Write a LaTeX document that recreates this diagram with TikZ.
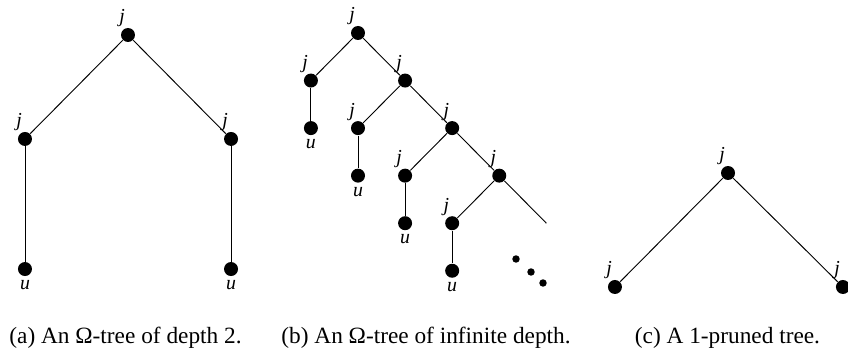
\documentclass[tikz,border=0pt]{standalone}
\usepackage{fontspec}
\setmainfont{Liberation Serif}
\usetikzlibrary{positioning}
\tikzset{
  vertex/.style={circle,fill=black,inner sep=0pt,minimum size=6pt},
  smalldot/.style={circle,fill=black,inner sep=0pt,minimum size=3.2pt},
  lbl/.style={font=\fontsize{8.5}{10}\selectfont,inner sep=0.6pt},
  jvertex/.style={vertex,label={[lbl,label distance=-0.6pt]102:\textit{j}}},
  uvertex/.style={vertex,label={[lbl,label distance=1pt]below:\textit{u}}},
  treeedge/.style={draw=black,line width=0.4pt},
  caption/.style={font=\fontsize{10}{12}\selectfont,anchor=base}
}
\begin{document}
\begin{tikzpicture}[x=0.429pt,y=-0.429pt,on grid]
\useasboundingbox (0,0) rectangle (848,356);
% (a) depth 2
\node[jvertex] (a0) at (128,35) {};
\node[jvertex, below left=44.6pt and 44.2pt of a0] (a1) {};
\node[jvertex, below right=44.6pt and 44.2pt of a0] (a2) {};
\node[uvertex, below=55.8pt of a1] (a3) {};
\node[uvertex, below=55.8pt of a2] (a4) {};
\draw[treeedge] (a0) -- (a1);
\draw[treeedge] (a0) -- (a2);
\draw[treeedge] (a1) -- (a3);
\draw[treeedge] (a2) -- (a4);
% (b) infinite depth
\node[jvertex] (b0) at (358,33) {};
\node[jvertex, below left=20.4pt and 20.2pt of b0] (b1) {};
\node[jvertex, below right=20.4pt and 20.2pt of b0] (b2) {};
\node[uvertex, below=20.4pt of b1] (b3) {};
\node[jvertex, below left=20.4pt and 20.2pt of b2] (b4) {};
\node[jvertex, below right=20.4pt and 20.2pt of b2] (b5) {};
\node[uvertex, below=20.4pt of b4] (b6) {};
\node[jvertex, below left=20.4pt and 20.2pt of b5] (b7) {};
\node[jvertex, below right=20.4pt and 20.2pt of b5] (b8) {};
\node[uvertex, below=20.4pt of b7] (b9) {};
\node[jvertex, below left=20.4pt and 20.2pt of b8] (b10) {};
\coordinate[below right=20.4pt and 20.2pt of b8] (bend);
\node[uvertex, below=20.4pt of b10] (b11) {};
\draw[treeedge] (b0) -- (b1);
\draw[treeedge] (b0) -- (b2);
\draw[treeedge] (b1) -- (b3);
\draw[treeedge] (b2) -- (b4);
\draw[treeedge] (b2) -- (b5);
\draw[treeedge] (b4) -- (b6);
\draw[treeedge] (b5) -- (b7);
\draw[treeedge] (b5) -- (b8);
\draw[treeedge] (b7) -- (b9);
\draw[treeedge] (b8) -- (b10);
\draw[treeedge] (b8) -- (bend);
\draw[treeedge] (b10) -- (b11);
\node[smalldot] (dot1) at (516,259) {};
\node[smalldot] (dot2) at (531,272) {};
\node[smalldot] (dot3) at (543,283) {};
% (c) pruned
\node[jvertex] (c0) at (728,173) {};
\node[jvertex, below left=48.9pt and 48.5pt of c0] (c1) {};
\node[jvertex, below right=48.9pt and 49.3pt of c0] (c2) {};
\draw[treeedge] (c0) -- (c1);
\draw[treeedge] (c0) -- (c2);
% captions
\node[caption] (capa) at (125.5,344) {(a) An Ω-tree of depth 2.};
\node[caption] (capb) at (426,344) {(b) An Ω-tree of infinite depth.};
\node[caption] (capc) at (727.5,344) {(c) A 1-pruned tree.};
\end{tikzpicture}
\end{document}
